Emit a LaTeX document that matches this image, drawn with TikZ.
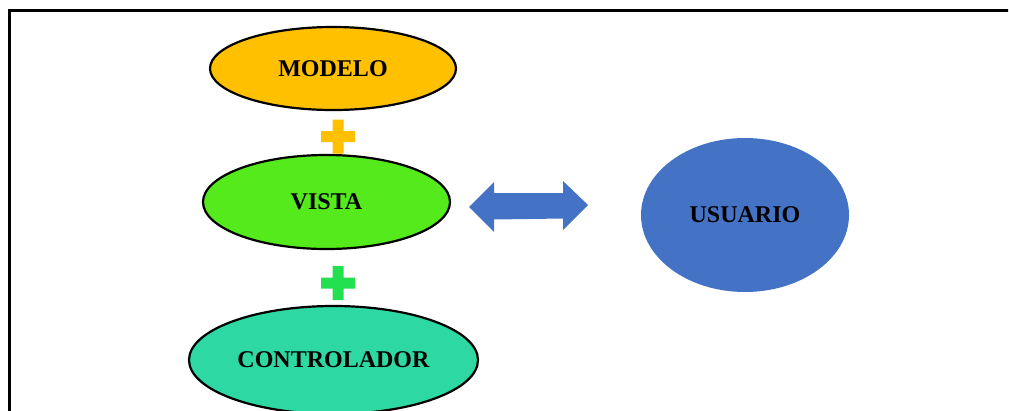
\documentclass[tikz,border=0pt]{standalone}
\usepackage{fontspec}
\setmainfont{Liberation Serif}
\usetikzlibrary{shapes.geometric}
\definecolor{cmod}{HTML}{FFC000}
\definecolor{cvis}{HTML}{55EA1B}
\definecolor{ccon}{HTML}{2ED8A3}
\definecolor{cusu}{HTML}{4472C4}
\definecolor{cplus}{HTML}{22E04F}
\tikzset{
  oval/.style={ellipse, draw=black, line width=2.2pt, inner sep=0pt,
    font=\fontsize{24}{27}\selectfont\bfseries},
}
\newcommand{\plusat}[3]{% x, y, color
  \fill[#3] (#1-5.5,#2-17) -- (#1+5.5,#2-17) -- (#1+5.5,#2-5.5) -- (#1+17,#2-5.5)
   -- (#1+17,#2+5.5) -- (#1+5.5,#2+5.5) -- (#1+5.5,#2+17) -- (#1-5.5,#2+17)
   -- (#1-5.5,#2+5.5) -- (#1-17,#2+5.5) -- (#1-17,#2-5.5) -- (#1-5.5,#2-5.5) -- cycle;}
\begin{document}
\begin{tikzpicture}[x=1pt,y=-1pt]
\useasboundingbox (0,0) rectangle (1009,410);
\begin{scope}
\clip (0,0) rectangle (1008,410);
\draw[line width=2.5pt] (9.7,10.5) rectangle (1030,440);
\end{scope}
\node[oval, fill=cmod, minimum width=246pt, minimum height=83pt] (modelo) at (333,68.5) {MODELO};
\node[oval, fill=cvis, minimum width=247pt, minimum height=94pt] (vista) at (326.5,202) {VISTA};
\node[oval, fill=ccon, minimum width=289pt, minimum height=108pt] (controlador) at (333.5,360) {CONTROLADOR};
\node[oval, draw=none, fill=cusu, minimum width=208pt, minimum height=154pt] (usuario) at (745,215) {USUARIO};
\plusat{338}{136.5}{cmod}
\plusat{338}{283}{cplus}
\fill[cusu] (469,207) -- (494,182) -- (494,193) -- (563,193) -- (563,181)
  -- (588,205) -- (563,230) -- (563,218.5) -- (494,219.5) -- (494,232) -- cycle;
\end{tikzpicture}
\end{document}
